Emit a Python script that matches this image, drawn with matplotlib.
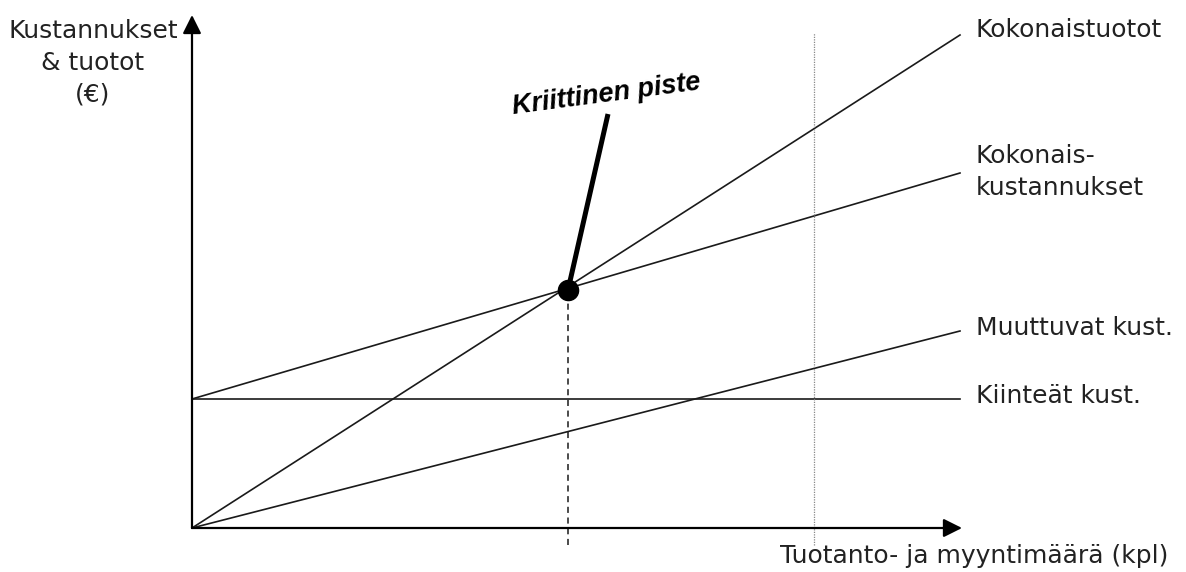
import matplotlib
matplotlib.use("Agg")
import matplotlib.pyplot as plt

# ---- data (arbitrary units: quantity on x, euros on y) ----
quantity = [0, 768]
revenue = [0, 493]          # Kokonaistuotot
fixed_costs = [129, 129]    # Kiinteät kust.
variable_costs = [0, 197]   # Muuttuvat kust.
total_costs = [129, 355]    # Kokonaiskustannukset
break_even_q = 376
break_even_v = 238
capacity_q = 622

line_labels = ["Kokonaistuotot", "Kokonais-\nkustannukset", "Muuttuvat kust.", "Kiinteät kust."]
y_label = "Kustannukset\n& tuotot\n(€)"
x_label = "Tuotanto- ja myyntimäärä (kpl)"
point_label = "Kriittinen piste"

plt.rcParams['font.family'] = ['DejaVu Sans']

fig = plt.figure(figsize=(11.86, 5.72), dpi=100)
ax = fig.add_axes([0, 0, 1, 1])
ax.set_xlim(-192, 994)
ax.set_ylim(-44, 528)
ax.axis('off')

lw = 1.2
ax.plot(quantity, revenue, color='#1a1a1a', lw=lw)
ax.plot(quantity, fixed_costs, color='#1a1a1a', lw=lw)
ax.plot(quantity, variable_costs, color='#1a1a1a', lw=lw)
ax.plot(quantity, total_costs, color='#1a1a1a', lw=lw)

# capacity dotted line
ax.plot([capacity_q, capacity_q], [-17, 495], color='#888888', lw=0.9, ls=(0, (1, 1)))
# dashed line below break-even point
ax.plot([break_even_q, break_even_q], [-17, break_even_v], color='#1a1a1a', lw=1.1, ls=(0, (4, 3)))

# axes arrows
arrow_style = '-|>,head_length=0.8,head_width=0.4'
ax.annotate("", xy=(770, 0), xytext=(0, 0),
            arrowprops=dict(arrowstyle=arrow_style, lw=1.6,
                            color='black', shrinkA=0, shrinkB=0, mutation_scale=14))
ax.annotate("", xy=(0, 513), xytext=(0, 0),
            arrowprops=dict(arrowstyle=arrow_style, lw=1.6,
                            color='black', shrinkA=0, shrinkB=0, mutation_scale=14))

# break-even point and pointer
ax.plot([break_even_q, break_even_q + 40], [break_even_v, break_even_v + 176], color='black', lw=3.6,
        solid_capstyle='butt')
ax.plot([break_even_q], [break_even_v], 'o', color='black', ms=14.5, zorder=5)
ax.text(606 - 192, 528 - 95, point_label, fontsize=19.5, fontweight='bold', fontstyle='italic',
        family=['Liberation Sans'], rotation=7.5, ha='center', va='center', color='black')

# labels on the right
fs = 18
tc = '#222222'
ax.text(784, 528 - 30, line_labels[0], fontsize=fs, ha='left', va='center', color=tc)
ax.text(784, 528 - 172, line_labels[1], fontsize=fs, ha='left', va='center', color=tc,
        linespacing=1.45)
ax.text(784, 528 - 328, line_labels[2], fontsize=fs, ha='left', va='center', color=tc)
ax.text(784, 528 - 396, line_labels[3], fontsize=fs, ha='left', va='center', color=tc)

ax.text(93 - 192, 528 - 63, y_label, fontsize=fs, ha='center', va='center', color=tc,
        linespacing=1.4)
ax.text(1168 - 192, 528 - 556, x_label, fontsize=fs, ha='right', va='center', color=tc)

fig.savefig("out.png", dpi=100)
